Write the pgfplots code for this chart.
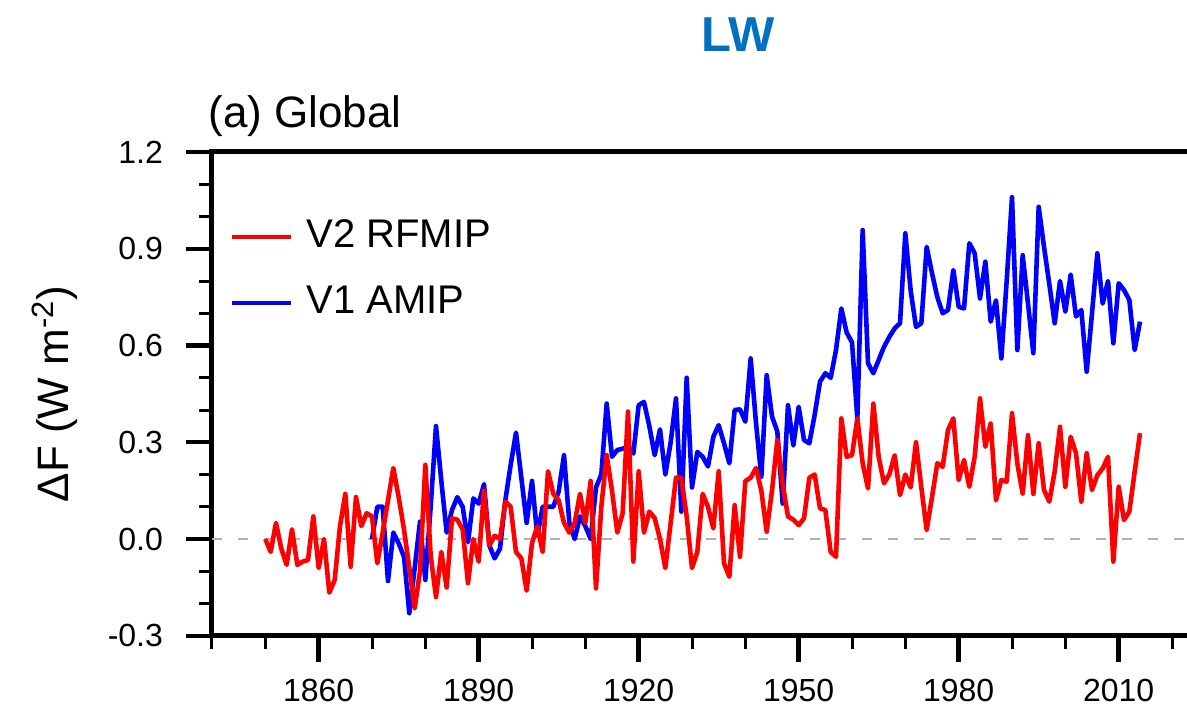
\documentclass[border=0pt]{standalone}
\usepackage{fontspec}
\setmainfont{Liberation Sans}
\usepackage{pgfplots}
\usepackage{pgfplotstable}
\pgfplotsset{compat=1.18}
\definecolor{lwblue}{RGB}{0,112,192}

\pgfplotstableread{
year val
1850 0.00
1851 -0.04
1852 0.05
1853 -0.03
1854 -0.08
1855 0.03
1856 -0.08
1857 -0.07
1858 -0.065
1859 0.07
1860 -0.09
1861 0.00
1862 -0.166
1863 -0.127
1864 0.04
1865 0.14
1866 -0.086
1867 0.13
1868 0.04
1869 0.08
1870 0.07
1871 -0.075
1872 0.02
1873 0.12
1874 0.22
1875 0.13
1876 0.03
1877 -0.09
1878 -0.215
1879 -0.10
1880 0.23
1881 -0.05
1882 -0.18
1883 -0.04
1884 -0.15
1885 0.064
1886 0.06
1887 0.03
1888 -0.137
1889 0.00
1890 -0.07
1891 0.15
1892 -0.02
1893 0.01
1894 0.00
1895 0.116
1896 0.10
1897 -0.04
1898 -0.06
1899 -0.16
1900 -0.013
1901 0.04
1902 -0.04
1903 0.21
1904 0.14
1905 0.12
1906 0.05
1907 0.02
1908 0.05
1909 0.14
1910 0.05
1911 0.18
1912 -0.153
1913 0.10
1914 0.26
1915 0.15
1916 0.02
1917 0.08
1918 0.395
1919 -0.07
1920 0.21
1921 0.02
1922 0.085
1923 0.065
1924 0.00
1925 -0.09
1926 0.05
1927 0.19
1928 0.19
1929 0.07
1930 -0.09
1931 -0.04
1932 0.14
1933 0.10
1934 0.033
1935 0.21
1936 -0.075
1937 -0.117
1938 0.105
1939 -0.055
1940 0.18
1941 0.19
1942 0.22
1943 0.15
1944 0.023
1945 0.15
1946 0.307
1947 0.17
1948 0.07
1949 0.06
1950 0.043
1951 0.064
1952 0.19
1953 0.20
1954 0.095
1955 0.09
1956 -0.04
1957 -0.055
1958 0.374
1959 0.255
1960 0.26
1961 0.374
1962 0.235
1963 0.157
1964 0.42
1965 0.255
1966 0.173
1967 0.20
1968 0.26
1969 0.136
1970 0.20
1971 0.16
1972 0.30
1973 0.16
1974 0.028
1975 0.13
1976 0.235
1977 0.224
1978 0.338
1979 0.374
1980 0.183
1981 0.245
1982 0.162
1983 0.255
1984 0.436
1985 0.286
1986 0.359
1987 0.12
1988 0.183
1989 0.178
1990 0.39
1991 0.235
1992 0.14
1993 0.322
1994 0.14
1995 0.297
1996 0.152
1997 0.116
1998 0.209
1999 0.348
2000 0.162
2001 0.317
2002 0.266
2003 0.116
2004 0.266
2005 0.152
2006 0.198
2007 0.219
2008 0.255
2009 -0.07
2010 0.162
2011 0.059
2012 0.085
2013 0.209
2014 0.328
}\rfmip

\pgfplotstableread{
year val
1870 0.00
1871 0.10
1872 0.10
1873 -0.13
1874 0.02
1875 -0.013
1876 -0.055
1877 -0.23
1878 -0.09
1879 0.054
1880 -0.127
1881 0.10
1882 0.35
1883 0.18
1884 0.02
1885 0.09
1886 0.13
1887 0.10
1888 -0.01
1889 0.126
1890 0.11
1891 0.17
1892 -0.02
1893 -0.06
1894 -0.03
1895 0.12
1896 0.23
1897 0.33
1898 0.19
1899 0.05
1900 0.18
1901 0.01
1902 0.10
1903 0.10
1904 0.10
1905 0.147
1906 0.26
1907 0.05
1908 0.00
1909 0.07
1910 0.04
1911 0.00
1912 0.16
1913 0.20
1914 0.42
1915 0.255
1916 0.276
1917 0.28
1918 0.286
1919 0.265
1920 0.415
1921 0.425
1922 0.35
1923 0.26
1924 0.34
1925 0.20
1926 0.30
1927 0.436
1928 0.085
1929 0.50
1930 0.16
1931 0.27
1932 0.255
1933 0.225
1934 0.317
1935 0.353
1936 0.297
1937 0.235
1938 0.40
1939 0.402
1940 0.364
1941 0.56
1942 0.36
1943 0.193
1944 0.508
1945 0.38
1946 0.333
1947 0.11
1948 0.415
1949 0.29
1950 0.41
1951 0.307
1952 0.297
1953 0.385
1954 0.488
1955 0.514
1956 0.50
1957 0.586
1958 0.715
1959 0.64
1960 0.61
1961 0.374
1962 0.958
1963 0.545
1964 0.514
1965 0.555
1966 0.596
1967 0.627
1968 0.653
1969 0.669
1970 0.948
1971 0.77
1972 0.658
1973 0.669
1974 0.906
1975 0.824
1976 0.75
1977 0.70
1978 0.71
1979 0.834
1980 0.72
1981 0.715
1982 0.917
1983 0.886
1984 0.746
1985 0.86
1986 0.674
1987 0.74
1988 0.56
1989 0.80
1990 1.06
1991 0.586
1992 0.88
1993 0.73
1994 0.576
1995 1.03
1996 0.906
1997 0.79
1998 0.669
1999 0.80
2000 0.705
2001 0.82
2002 0.69
2003 0.71
2004 0.519
2005 0.70
2006 0.886
2007 0.73
2008 0.80
2009 0.607
2010 0.793
2011 0.772
2012 0.741
2013 0.586
2014 0.674
}\amip

\begin{document}
\begin{tikzpicture}
\useasboundingbox (-106pt,-43.6pt) rectangle (487.5pt,317.9pt);
\begin{scope}
\clip (-106pt,-43.6pt) rectangle (487.5pt,317.9pt);
\begin{axis}[
  at={(0pt,0pt)}, anchor=south west,
  scale only axis, width=506.67pt, height=241.9pt,
  xmin=1840, xmax=2030, ymin=-0.3, ymax=1.2,
  axis line style={line width=2.5pt},
  tick align=outside, tick pos=left,
  xtick={1860,1890,1920,1950,1980,2010},
  xticklabels={1860,1890,1920,1950,1980,2010},
  minor xtick={1840,1850,1870,1880,1900,1910,1930,1940,1960,1970,1990,2000,2020,2030},
  ytick={-0.3,0,0.3,0.6,0.9,1.2},
  yticklabels={-0.3,0.0,0.3,0.6,0.9,1.2},
  minor ytick={-0.2,-0.1,0.1,0.2,0.4,0.5,0.7,0.8,1.0,1.1},
  major tick length=13pt, minor tick length=6.5pt,
  every major tick/.append style={line width=2.2pt, black},
  every minor tick/.append style={line width=1.5pt, black},
  tick label style={font=\fontsize{16}{16}\selectfont},
  yticklabel style={xshift=-8pt},
  xticklabel style={yshift=-5pt},
  ylabel={ΔF (W m\textsuperscript{-2})},
  ylabel style={at={(axis description cs:-0.155,0.5)}, anchor=center, font=\fontsize{22}{22}\selectfont},
  legend cell align=left,
  legend image code/.code={\draw[#1, line width=2.3pt] (0pt,0pt) -- (29.5pt,0pt);},
  legend style={draw=none, fill=none, at={(0,1)}, anchor=north west,
    xshift=9pt, yshift=-32.5pt, inner sep=0pt, outer sep=0pt,
    row sep=13pt, column sep=6.5pt,
    nodes={inner sep=0pt, text height=15pt, text depth=5pt, font=\fontsize{20}{20}\selectfont}},
]
\addlegendimage{red}
\addlegendentry{V2 RFMIP}
\addlegendimage{blue}
\addlegendentry{V1 AMIP}
\addplot[forget plot, black!30, line width=1pt, dash pattern=on 5pt off 8pt] coordinates {(1840,0) (2030,0)};
\addplot[forget plot, blue, line width=2.3pt, line join=round] table[x=year, y=val] {\amip};
\addplot[forget plot, red, line width=2.3pt, line join=round] table[x=year, y=val] {\rfmip};
\end{axis}
\end{scope}
\node[anchor=base, inner sep=0pt, font=\bfseries\fontsize{24.5}{24.5}\selectfont, text=lwblue] at (263pt,291.9pt) {LW};
\node[anchor=base west, inner sep=0pt, font=\fontsize{22}{22}\selectfont] at (-2pt,253.9pt) {(a) Global};
\end{tikzpicture}
\end{document}
